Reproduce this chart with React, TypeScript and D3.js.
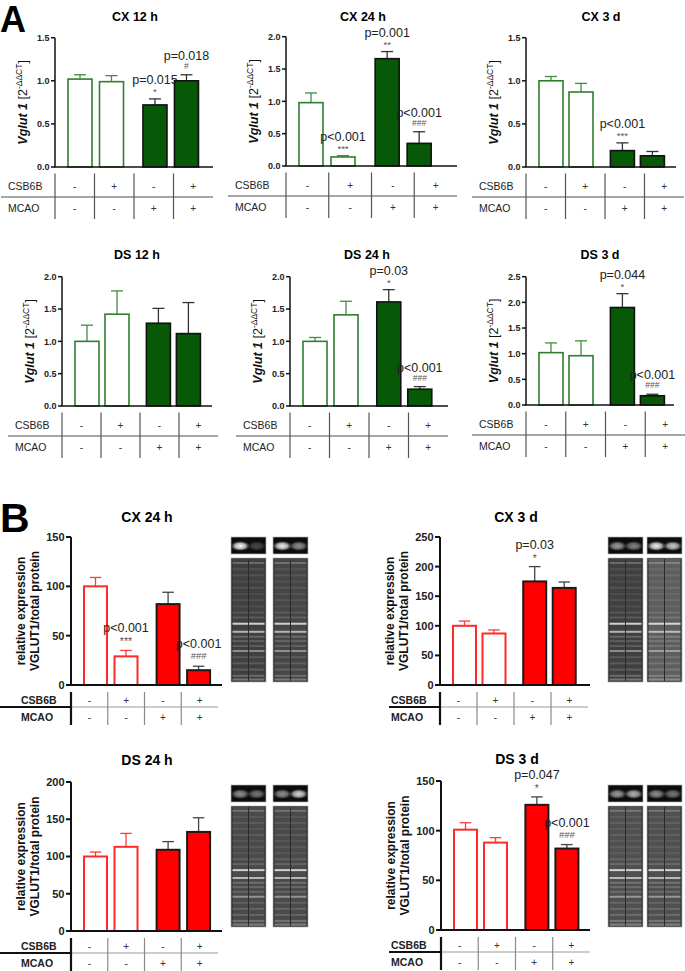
import React from "react";
import * as d3 from "d3";

const FONT = "'Liberation Sans', Arial, Helvetica, sans-serif";

// ---------- table rows ----------
const ROW_LABELS = ["CSB6B", "MCAO"];
const CSB6B_SIGNS = ["-", "+", "-", "+"];
const MCAO_SIGNS = ["-", "-", "+", "+"];

// ---------- Panel A: Vglut1 mRNA (2^-ΔΔCT) ----------
const A_TITLES = ["CX 12 h", "CX 24 h", "CX 3 d", "DS 12 h", "DS 24 h", "DS 3 d"];
const A_YMAX = [1.5, 2.0, 1.5, 2.0, 2.0, 2.5];
const A_CX12_MEAN = [1.02, 0.99, 0.72, 1.0];
const A_CX12_SEM = [0.05, 0.07, 0.07, 0.07];
const A_CX24_MEAN = [0.98, 0.14, 1.66, 0.35];
const A_CX24_SEM = [0.15, 0.02, 0.11, 0.18];
const A_CX3D_MEAN = [1.0, 0.87, 0.19, 0.13];
const A_CX3D_SEM = [0.05, 0.1, 0.09, 0.05];
const A_DS12_MEAN = [1.0, 1.42, 1.28, 1.12];
const A_DS12_SEM = [0.25, 0.36, 0.23, 0.48];
const A_DS24_MEAN = [1.0, 1.41, 1.61, 0.26];
const A_DS24_SEM = [0.06, 0.21, 0.19, 0.04];
const A_DS3D_MEAN = [1.02, 0.96, 1.9, 0.18];
const A_DS3D_SEM = [0.19, 0.29, 0.27, 0.03];
const A_PTEXT = [
  ["", "", "p=0.015", "p=0.018"],
  ["", "p<0.001", "p=0.001", "p<0.001"],
  ["", "", "p<0.001", ""],
  ["", "", "", ""],
  ["", "", "p=0.03", "p<0.001"],
  ["", "", "p=0.044", "p<0.001"],
];
const A_SYMS = [
  ["", "", "*", "#"],
  ["", "***", "**", "###"],
  ["", "", "***", ""],
  ["", "", "", ""],
  ["", "", "*", "###"],
  ["", "", "*", "###"],
];

// ---------- Panel B: VGLUT1 protein ----------
const B_TITLES = ["CX 24 h", "CX 3 d", "DS 24 h", "DS 3 d"];
const B_YMAX = [150, 250, 200, 150];
const B_CX24_MEAN = [100, 29, 82, 15];
const B_CX24_SEM = [9, 6, 12, 4];
const B_CX3D_MEAN = [100, 87, 175, 164];
const B_CX3D_SEM = [8, 6, 25, 10];
const B_DS24_MEAN = [100, 113, 109, 133];
const B_DS24_SEM = [6, 18, 11, 19];
const B_DS3D_MEAN = [101, 88, 126, 82];
const B_DS3D_SEM = [7, 5, 8, 4];
const B_PTEXT = [
  ["", "p<0.001", "", "p<0.001"],
  ["", "", "p=0.03", ""],
  ["", "", "", ""],
  ["", "", "p=0.047", "p<0.001"],
];
const B_SYMS = [
  ["", "***", "", "###"],
  ["", "", "*", ""],
  ["", "", "", ""],
  ["", "", "*", "###"],
];

// blot appearance (band position as fraction of lane height, brightness)
const BLOT_BANDS: [number, number][] = [
  [0.04, 0.22], [0.09, 0.08], [0.14, 0.1], [0.19, 0.07], [0.24, 0.1], [0.29, 0.07],
  [0.34, 0.09], [0.39, 0.08], [0.44, 0.12], [0.48, 0.15], [0.53, 0.75], [0.595, 0.6],
  [0.635, 0.2], [0.67, 0.16], [0.71, 0.15], [0.75, 0.4], [0.8, 0.13], [0.85, 0.15],
  [0.9, 0.16], [0.95, 0.22], [0.98, 0.28],
];
const B_BLOT_BASE = [["#404040", "#464646"], ["#404040", "#5e5e5e"], ["#4a4a4a", "#4a4a4a"], ["#505050", "#505050"]];
const B_TOP_INTENSITY = [
  [[1.0, 0.25], [0.95, 0.55]],
  [[0.6, 0.5], [0.95, 0.8]],
  [[0.55, 0.45], [0.55, 0.85]],
  [[0.6, 0.7], [0.55, 0.45]],
];

// ---------- layouts ----------
const A_LAYOUT = [
  { axisX: 55, yTop: 37.7, yBot: 167, xEnd: 213, tableEnd: 213, labelX: 8, hStart: 1, titleX: 135, titleY: 21, step: 31.5 },
  { axisX: 286, yTop: 36.7, yBot: 166, xEnd: 457, tableEnd: 457, labelX: 235, hStart: 228, titleX: 363, titleY: 21, step: 32 },
  { axisX: 526, yTop: 37.7, yBot: 167, xEnd: 676, tableEnd: 684, labelX: 479, hStart: 472, titleX: 601, titleY: 21, step: 30 },
  { axisX: 62, yTop: 276.7, yBot: 406, xEnd: 212, tableEnd: 218, labelX: 15, hStart: 8, titleX: 137, titleY: 259, step: 30 },
  { axisX: 290, yTop: 276.7, yBot: 406, xEnd: 448, tableEnd: 448, labelX: 243, hStart: 236, titleX: 367, titleY: 259, step: 31 },
  { axisX: 526, yTop: 276.7, yBot: 405, xEnd: 674, tableEnd: 685, labelX: 479, hStart: 472, titleX: 600, titleY: 259, step: 30 },
];
const B_LAYOUT = [
  { axisX: 71, yTop: 537, yBot: 685, xEnd: 222, tableEnd: 218, labelX: 21, hStart: 0, titleX: 147, titleY: 522, blotX: [231, 273], blotTop: 537, blotH: 124, step: 30.5 },
  { axisX: 440, yTop: 537, yBot: 685, xEnd: 590, tableEnd: 588, labelX: 391, hStart: 389, titleX: 516, titleY: 522, blotX: [608, 647], blotTop: 537, blotH: 124, step: 29.5 },
  { axisX: 71, yTop: 782, yBot: 931, xEnd: 222, tableEnd: 218, labelX: 21, hStart: 0, titleX: 147, titleY: 765, blotX: [231, 273], blotTop: 785, blotH: 121, step: 30.5 },
  { axisX: 441, yTop: 781, yBot: 930, xEnd: 590, tableEnd: 590, labelX: 391, hStart: 389, titleX: 517, titleY: 764, blotX: [608, 647], blotTop: 785, blotH: 121, step: 30 },
];

const GROUP_POS = [0, 1, 2.38, 3.38];

const A_MEANS = [A_CX12_MEAN, A_CX24_MEAN, A_CX3D_MEAN, A_DS12_MEAN, A_DS24_MEAN, A_DS3D_MEAN];
const A_SEMS = [A_CX12_SEM, A_CX24_SEM, A_CX3D_SEM, A_DS12_SEM, A_DS24_SEM, A_DS3D_SEM];
const B_MEANS = [B_CX24_MEAN, B_CX3D_MEAN, B_DS24_MEAN, B_DS3D_MEAN];
const B_SEMS = [B_CX24_SEM, B_CX3D_SEM, B_DS24_SEM, B_DS3D_SEM];

const STYLE_A = {
  openStroke: "#2f7d2f", openErr: "#3f8f3f", fill: "#075807", fillStroke: "#111", fillErr: "#333",
  barW: 24, barSW: 1.6, axisW: 1.5, tickLen: 4, tickFont: 9, titleFont: 12.5,
  tableFont: 10.5, tableBold: false, annFont: 12.5, symFont: 8.5, textGap: 15, symGap: 9,
  rowOff: [19, 41.5], hOff: 30, vOff: [6.5, 52], firstOff: 25,
};
const STYLE_B = {
  openStroke: "#ff2a2a", openErr: "#ff3a3a", fill: "#ff0000", fillStroke: "#1a1a1a", fillErr: "#444",
  barW: 23, barSW: 2, axisW: 2, tickLen: 5, tickFont: 11, titleFont: 14,
  tableFont: 10.5, tableBold: true, annFont: 12.5, symFont: 9.5, textGap: 18, symGap: 10,
  rowOff: [15, 32], hOff: 22, vOff: [7, 40], firstOff: 24.5,
};

function BarPanel({ L, S, title, yMax, tickStep, fmt, means, sems, ptext, syms, kind }: any) {
  const y = d3.scaleLinear().domain([0, yMax]).range([L.yBot, L.yTop]);
  const x = d3.scaleLinear().domain([0, 1]).range([L.axisX + S.firstOff, L.axisX + S.firstOff + L.step]);
  const ticks = d3.range(0, yMax + 1e-9, tickStep);
  const cols = d3.scaleBand<number>().domain(d3.range(4)).range([L.axisX, L.tableEnd]);
  const midY = (L.yTop + L.yBot) / 2;
  const rows = [CSB6B_SIGNS, MCAO_SIGNS];
  const bottom = 971;
  return (
    <g fontFamily={FONT}>
      <text x={L.titleX} y={L.titleY} textAnchor="middle" fontWeight="bold" fontSize={S.titleFont}>{title}</text>
      {means.map((m: number, i: number) => {
        const cx = x(GROUP_POS[i]);
        const filled = i >= 2;
        const top = y(m);
        const et = y(m + sems[i]);
        return (
          <g key={i}>
            <line x1={cx} x2={cx} y1={top} y2={et} stroke={filled ? S.fillErr : S.openErr} strokeWidth={1.3} />
            <line x1={cx - S.barW / 4} x2={cx + S.barW / 4} y1={et} y2={et} stroke={filled ? S.fillErr : S.openErr} strokeWidth={1.3} />
            <rect x={cx - S.barW / 2} y={top} width={S.barW} height={L.yBot - top}
              fill={filled ? S.fill : "#fff"} stroke={filled ? S.fillStroke : S.openStroke} strokeWidth={S.barSW} />
            {ptext[i] && (
              <text x={cx} y={et - S.textGap} textAnchor="middle" fontSize={S.annFont} fill="#222">{ptext[i]}</text>
            )}
            {syms[i] && (
              <text x={cx} y={et - S.symGap + (syms[i][0] === "*" ? 5 : 3.2)} textAnchor="middle"
                fontSize={syms[i][0] === "*" ? S.symFont + 1 : S.symFont} fill="#555">{syms[i]}</text>
            )}
          </g>
        );
      })}
      <line x1={L.axisX} x2={L.axisX} y1={L.yTop} y2={L.yBot} stroke="#111" strokeWidth={S.axisW} />
      <line x1={L.axisX - S.axisW / 2} x2={L.xEnd} y1={L.yBot} y2={L.yBot} stroke="#111" strokeWidth={S.axisW} />
      {ticks.map((t: number) => (
        <g key={t}>
          <line x1={L.axisX - S.tickLen} x2={L.axisX} y1={y(t)} y2={y(t)} stroke="#111" strokeWidth={S.axisW} />
          <text x={L.axisX - S.tickLen - 1.5} y={y(t) + S.tickFont * 0.36} textAnchor="end" fontWeight="bold" fontSize={S.tickFont} fill="#222">{fmt(t)}</text>
        </g>
      ))}
      {kind === "A" ? (
        <text transform={`translate(${L.axisX - 28},${midY}) rotate(-90)`} textAnchor="middle" fontSize={12.5} fill="#111">
          <tspan fontStyle="italic" fontWeight="bold">Vglut 1</tspan>
          <tspan> [2</tspan>
          <tspan dy={-5} fontSize={8.5}>-ΔΔCT</tspan>
          <tspan dy={5}>]</tspan>
        </text>
      ) : (
        <g transform={`translate(${L.axisX - 50},${midY}) rotate(-90)`}>
          <text x={0} y={4} textAnchor="middle" fontSize={12} fontWeight="bold" fill="#111">relative expression</text>
          <text x={0} y={18} textAnchor="middle" fontSize={12} fontWeight="bold" fill="#111">VGLUT1/total protein</text>
        </g>
      )}
      {kind === "A" ? (
        <line x1={L.hStart} x2={L.tableEnd} y1={L.yBot + S.hOff} y2={L.yBot + S.hOff} stroke="#8a8a8a" strokeWidth={1.5} />
      ) : (
        <g>
          <line x1={L.axisX} x2={L.tableEnd} y1={L.yBot + S.hOff} y2={L.yBot + S.hOff} stroke="#9a9a9a" strokeWidth={1.1} />
          <line x1={L.hStart} x2={L.axisX} y1={L.yBot + S.hOff} y2={L.yBot + S.hOff} stroke="#111" strokeWidth={2.2} />
        </g>
      )}
      {d3.range(4).map((c) => (
        <line key={c} x1={cols(c)!} x2={cols(c)!} y1={L.yBot + S.vOff[0]} y2={Math.min(bottom, L.yBot + S.vOff[1])}
          stroke={kind === "B" && c === 0 ? "#111" : kind === "A" ? "#555" : "#8a8a8a"}
          strokeWidth={kind === "B" && c === 0 ? 2.2 : 1.2} />
      ))}
      {ROW_LABELS.map((lab, r) => (
        <g key={lab}>
          <text x={L.labelX} y={L.yBot + S.rowOff[r] + 3.8} fontSize={S.tableFont} fontWeight={S.tableBold ? "bold" : "normal"} fill="#222">{lab}</text>
          {rows[r].map((s, c) => (
            <text key={c} x={cols(c)! + cols.bandwidth() / 2} y={L.yBot + S.rowOff[r] + 3.6} textAnchor="middle" fontSize={10} fill="#333">{s}</text>
          ))}
        </g>
      ))}
    </g>
  );
}

function Blots({ L, base, intens, id }: any) {
  const w = 35;
  const topH = 17;
  const bigY = L.blotTop + topH + 4;
  const laneW = (w - 4) / 2;
  return (
    <g>
      {L.blotX.map((bx: number, b: number) => (
        <g key={b}>
          <rect x={bx} y={L.blotTop} width={w} height={topH} fill="#0c0c0c" stroke="#b5b5b5" strokeWidth={0.7} />
          {[0, 1].map((l) => (
            <ellipse key={l} cx={bx + 1.5 + l * (laneW + 1) + laneW / 2} cy={L.blotTop + topH / 2 + 0.5}
              rx={laneW / 2 + 2} ry={topH * 0.3} fill={`url(#blob${id})`} opacity={intens[b][l]} />
          ))}
          <rect x={bx} y={bigY} width={w} height={L.blotH} fill="#2a2a2a" stroke="#b5b5b5" strokeWidth={0.7} />
          {[0, 1].map((l) => {
            const lx = bx + 1.5 + l * (laneW + 1);
            return (
              <g key={l}>
                <rect x={lx} y={bigY + 1} width={laneW} height={L.blotH - 2} fill={base[b]} />
                {BLOT_BANDS.map(([f, o], k) => (
                  <rect key={k} x={lx} y={bigY + f * L.blotH - 1} width={laneW} height={2} fill="#fff" opacity={o} />
                ))}
              </g>
            );
          })}
        </g>
      ))}
    </g>
  );
}

export default function App() {
  const fmtA = d3.format(".1f");
  const fmtB = d3.format("d");
  return (
    <svg width={685} height={971} viewBox="0 0 685 971" style={{ position: "absolute", left: 0, top: 0, background: "#fff" }}>
      <defs>
        {[0, 1, 2, 3].map((i) => (
          <radialGradient key={i} id={`blob${i}`}>
            <stop offset="0%" stopColor="#fff" stopOpacity={1} />
            <stop offset="55%" stopColor="#ddd" stopOpacity={0.8} />
            <stop offset="100%" stopColor="#888" stopOpacity={0} />
          </radialGradient>
        ))}
      </defs>
      <rect x={0} y={0} width={685} height={971} fill="#fff" />
      <text x={0} y={32} fontFamily={FONT} fontWeight="bold" fontSize={36} fill="#000">A</text>
      <text x={0} y={532} fontFamily={FONT} fontWeight="bold" fontSize={41} fill="#000">B</text>
      {A_LAYOUT.map((L, i) => (
        <BarPanel key={`a${i}`} kind="A" L={L} S={STYLE_A} title={A_TITLES[i]} yMax={A_YMAX[i]} tickStep={0.5}
          fmt={fmtA} means={A_MEANS[i]} sems={A_SEMS[i]} ptext={A_PTEXT[i]} syms={A_SYMS[i]} />
      ))}
      {B_LAYOUT.map((L, i) => (
        <g key={`b${i}`}>
          <BarPanel kind="B" L={L} S={STYLE_B} title={B_TITLES[i]} yMax={B_YMAX[i]} tickStep={50}
            fmt={fmtB} means={B_MEANS[i]} sems={B_SEMS[i]} ptext={B_PTEXT[i]} syms={B_SYMS[i]} />
          <Blots L={L} base={B_BLOT_BASE[i]} intens={B_TOP_INTENSITY[i]} id={i} />
        </g>
      ))}
    </svg>
  );
}
